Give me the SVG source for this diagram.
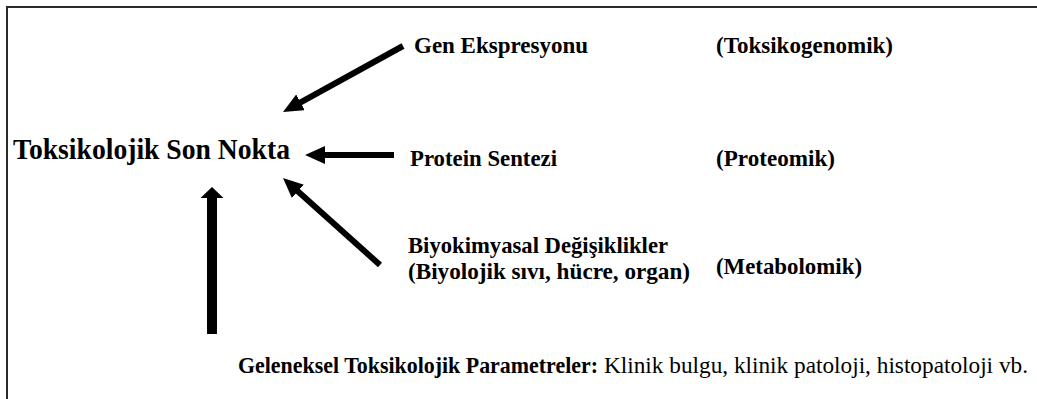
<svg xmlns="http://www.w3.org/2000/svg" width="1037" height="399" viewBox="0 0 1037 399">
  <style>
    text { font-family: "Liberation Serif", "Times New Roman", serif; fill: #000; }
    .b { font-weight: bold; }
    .lbl { font-size: 23px; }
    .main { font-size: 30px; font-weight: bold; }
    .conn { stroke: #000; stroke-width: 6; fill: none; marker-end: url(#ah); }
  </style>
  <defs>
    <marker id="ah" markerUnits="userSpaceOnUse" markerWidth="20" markerHeight="18" refX="2" refY="9" orient="auto">
      <path d="M0,0 L20,9 L0,18 z" fill="#000"/>
    </marker>
  </defs>
  <rect x="7" y="7" width="1040" height="400" fill="#fff" stroke="#2a2a2a" stroke-width="2"/>

  <g id="connectors">
    <line class="conn" x1="403" y1="46" x2="298.8" y2="103.3"/>
    <line class="conn" x1="394" y1="155" x2="323" y2="155"/>
    <line class="conn" x1="380" y1="265" x2="296.4" y2="190"/>
    <path d="M207,334 L207,198 L200.5,198 L212,187 L223.5,198 L217,198 L217,334 z" fill="#000"/>
  </g>

  <g id="node-endpoint">
    <text class="main" x="13" y="159" textLength="277" lengthAdjust="spacingAndGlyphs">Toksikolojik Son Nokta</text>
  </g>
  <g id="node-gen">
    <text class="lbl b" x="414" y="53" textLength="174" lengthAdjust="spacingAndGlyphs">Gen Ekspresyonu</text>
    <text class="lbl b" x="716" y="53" textLength="177" lengthAdjust="spacingAndGlyphs">(Toksikogenomik)</text>
  </g>
  <g id="node-protein">
    <text class="lbl b" x="410" y="166" textLength="147" lengthAdjust="spacingAndGlyphs">Protein Sentezi</text>
    <text class="lbl b" x="716" y="166" textLength="119" lengthAdjust="spacingAndGlyphs">(Proteomik)</text>
  </g>
  <g id="node-biyo">
    <text class="lbl b" x="408" y="253" textLength="260" lengthAdjust="spacingAndGlyphs">Biyokimyasal Değişiklikler</text>
    <text class="lbl b" x="408" y="279" textLength="282" lengthAdjust="spacingAndGlyphs">(Biyolojik sıvı, hücre, organ)</text>
    <text class="lbl b" x="716" y="274" textLength="146" lengthAdjust="spacingAndGlyphs">(Metabolomik)</text>
  </g>
  <g id="node-traditional">
    <text class="lbl b" x="238" y="373" textLength="360" lengthAdjust="spacingAndGlyphs">Geleneksel Toksikolojik Parametreler:</text>
    <text class="lbl" x="604" y="373" textLength="424" lengthAdjust="spacingAndGlyphs">Klinik bulgu, klinik patoloji, histopatoloji vb.</text>
  </g>
</svg>
